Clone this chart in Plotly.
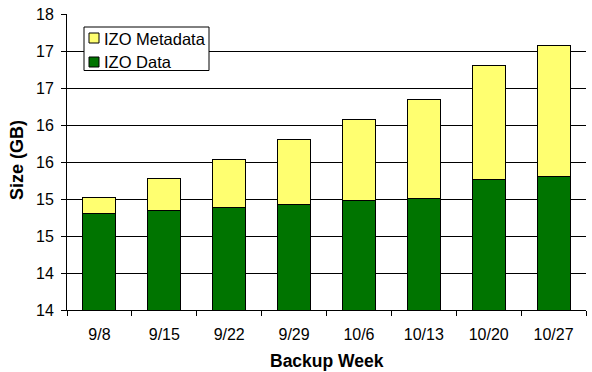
import plotly.graph_objects as go

weeks = ["9/8", "9/15", "9/22", "9/29", "10/6", "10/13", "10/20", "10/27"]
izo_data = [15.30, 15.34, 15.38, 15.42, 15.48, 15.51, 15.76, 15.80]
izo_metadata = [0.22, 0.44, 0.66, 0.88, 1.10, 1.33, 1.55, 1.77]
y_tickvals = [14, 14.5, 15, 15.5, 16, 16.5, 17, 17.5, 18]
y_ticktext = ["14", "14", "15", "15", "16", "16", "17", "17", "18"]

FONT = "Liberation Sans, Arial, sans-serif"
DATA_COLOR = "#007400"
META_COLOR = "#FFFF70"

W, H = 592, 372
L, R, T, B = 67, 6, 14, 62
PW, PH = W - L - R, H - T - B


def px(x):
    return (x - L) / PW


def py(y):
    return (H - B - y) / PH


fig = go.Figure()
fig.add_trace(go.Bar(
    x=weeks, y=izo_data, name="IZO Data",
    marker=dict(color=DATA_COLOR, line=dict(color="#000000", width=1)),
))
fig.add_trace(go.Bar(
    x=weeks, y=izo_metadata, name="IZO Metadata",
    marker=dict(color=META_COLOR, line=dict(color="#000000", width=1)),
))

# Boxed legend drawn in paper coordinates
shapes = [
    dict(type="rect", xref="paper", yref="paper",
         x0=px(84), x1=px(209), y0=py(27), y1=py(70.5),
         line=dict(color="#000000", width=1), fillcolor="white", layer="above"),
    dict(type="rect", xref="paper", yref="paper",
         x0=px(89), x1=px(99), y0=py(33), y1=py(43),
         line=dict(color="#000000", width=1), fillcolor=META_COLOR, layer="above"),
    dict(type="rect", xref="paper", yref="paper",
         x0=px(89), x1=px(99), y0=py(57), y1=py(67),
         line=dict(color="#000000", width=1), fillcolor=DATA_COLOR, layer="above"),
]
annotations = [
    dict(text="IZO Metadata", xref="paper", yref="paper", x=px(102), y=py(38.5),
         xanchor="left", yanchor="middle", showarrow=False,
         font=dict(family=FONT, size=16.5, color="#000000")),
    dict(text="IZO Data", xref="paper", yref="paper", x=px(102), y=py(62),
         xanchor="left", yanchor="middle", showarrow=False,
         font=dict(family=FONT, size=16.5, color="#000000")),
    dict(text="<b>Backup Week</b>", xref="paper", yref="paper", x=0.5, y=py(361),
         xanchor="center", yanchor="middle", showarrow=False,
         font=dict(family=FONT, size=17.5, color="#000000")),
    dict(text="<b>Size (GB)</b>", xref="paper", yref="paper", x=px(17), y=py(160),
         xanchor="center", yanchor="middle", showarrow=False, textangle=-90,
         font=dict(family=FONT, size=18, color="#000000")),
]

fig.update_layout(
    barmode="stack",
    bargap=0.49,
    width=W, height=H,
    margin=dict(l=L, r=R, t=T, b=B),
    paper_bgcolor="white", plot_bgcolor="white",
    font=dict(family=FONT, size=16, color="#000000"),
    showlegend=False,
    shapes=shapes,
    annotations=annotations,
)
fig.update_xaxes(
    type="category",
    showline=True, linecolor="#000000", linewidth=1,
    ticks="outside", tickson="boundaries", ticklen=5, tickcolor="#000000",
    showgrid=False,
    tickfont=dict(family=FONT, size=16),
    ticklabelstandoff=10,
    automargin=False,
)
fig.update_yaxes(
    range=[14, 18],
    tickvals=y_tickvals, ticktext=y_ticktext,
    showline=True, linecolor="#000000", linewidth=1,
    ticks="outside", ticklen=5, tickcolor="#000000",
    showgrid=True, gridcolor="#000000", gridwidth=1,
    zeroline=False,
    tickfont=dict(family=FONT, size=16),
    ticklabelstandoff=4,
    automargin=False,
)

fig.write_html("out.html")
